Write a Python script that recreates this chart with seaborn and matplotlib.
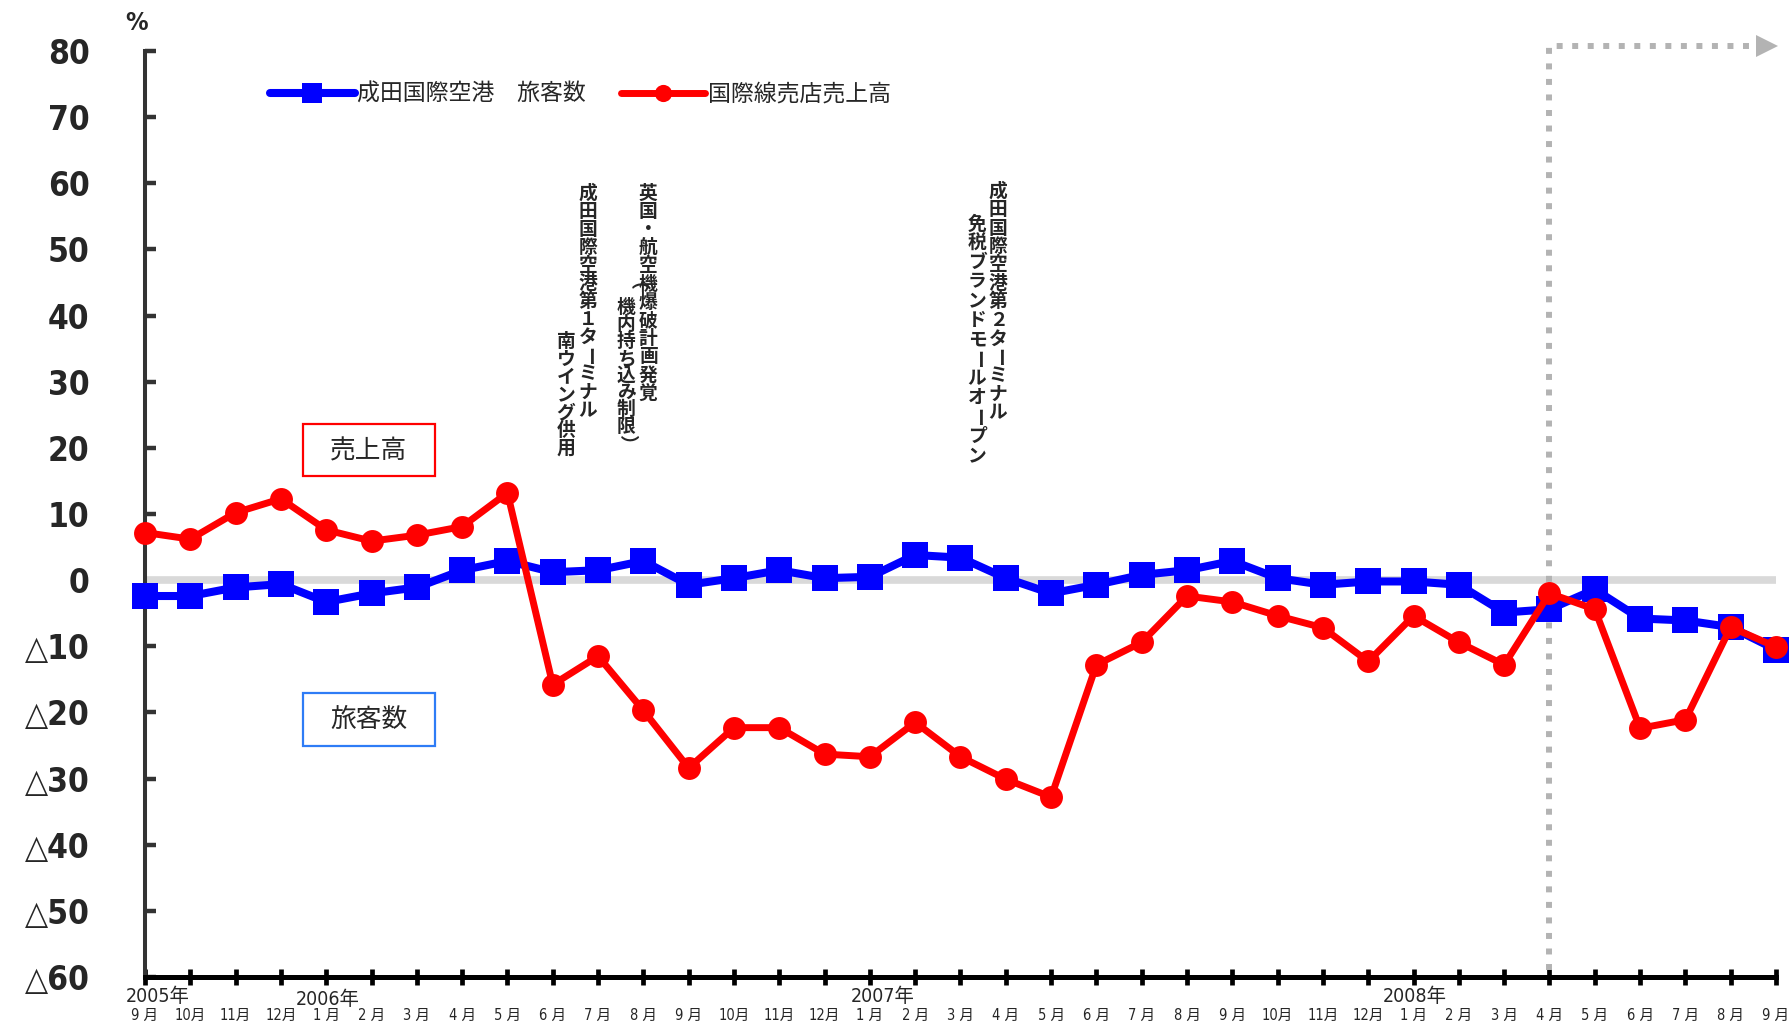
import numpy as np
import pandas as pd
import matplotlib
matplotlib.use("Agg")
import matplotlib.pyplot as plt
import seaborn as sns
from matplotlib.patches import Rectangle

# ---- data -------------------------------------------------------------
month_labels = [
    "9 月", "10月", "11月", "12月",
    "1 月", "2 月", "3 月", "4 月", "5 月", "6 月", "7 月", "8 月", "9 月", "10月", "11月", "12月",
    "1 月", "2 月", "3 月", "4 月", "5 月", "6 月", "7 月", "8 月", "9 月", "10月", "11月", "12月",
    "1 月", "2 月", "3 月", "4 月", "5 月", "6 月", "7 月", "8 月", "9 月",
]
year_labels = ["2005年", "2006年", "2007年", "2008年"]
year_start = [0, 4, 16, 28]

# 成田国際空港 旅客数 (前年同月比 %)
passengers = [-2.4, -2.4, -1.1, -0.6, -3.3, -2.0, -1.1, 1.5, 2.9, 1.2, 1.5, 2.9,
              -0.7, 0.3, 1.5, 0.3, 0.5, 3.8, 3.4, 0.3, -2.0, -0.7, 0.8, 1.5,
              2.9, 0.3, -0.7, -0.2, -0.2, -0.7, -4.9, -4.4, -1.4, -5.8, -6.1, -7.1, -10.5]
# 国際線売店売上高 (前年同月比 %)
sales = [7.2, 6.2, 10.2, 12.3, 7.6, 5.9, 6.8, 8.1, 13.2, -15.8, -11.5, -19.7,
         -28.4, -22.3, -22.3, -26.3, -26.7, -21.5, -26.7, -30.1, -32.8, -12.8, -9.4, -2.4,
         -3.3, -5.4, -7.2, -12.3, -5.4, -9.4, -12.8, -2.0, -4.4, -22.4, -21.1, -7.1, -10.1]

series_names = ["成田国際空港　旅客数", "国際線売店売上高"]
box_labels = ["売上高", "旅客数"]
event_notes = [
    ("成田国際空港第１ターミナル", "南ウイング供用"),
    ("英国・航空機爆破計画発覚", "（機内持ち込み制限）"),
    ("成田国際空港第２ターミナル", "免税ブランドモールオープン"),
]
y_ticks = list(range(-60, 81, 10))
y_tick_labels = [("△%d" % -v) if v < 0 else str(v) for v in y_ticks]
marker_month = 31  # 2008年4月

# ---- style ------------------------------------------------------------
sns.set_style("white")
plt.rcParams["font.family"] = ["Noto Sans CJK JP", "DejaVu Sans"]
NARROW = ["DejaVu Sans", "Noto Sans CJK JP"]

W, H = 1791, 1026
fig = plt.figure(figsize=(W / 100, H / 100), dpi=100)
ax = fig.add_axes([145 / W, 1 - 977 / H, (1776 - 145) / W, (977 - 51) / H])

df = pd.DataFrame({"month": np.arange(len(month_labels)),
                   "passengers": passengers, "sales": sales})

# zero reference band
ax.axhline(0, color="#d9d9d9", lw=5.5, zorder=1, solid_capstyle="butt")

# dotted pointer from 2008年4月 to the right edge
ax.plot([marker_month, marker_month, 35.55], [-59, 80.7, 80.7], color="#b3b3b3",
        lw=4.3, linestyle=(0, (1, 1.6)), dash_capstyle="butt", clip_on=False, zorder=1.5)
ax.plot([35.8], [80.7], marker=">", ms=16.5, color="#b3b3b3", mew=0, clip_on=False, zorder=1.5)

sns.lineplot(data=df, x="month", y="passengers", ax=ax, color="#0000ff", lw=5.8,
             marker="s", markersize=18.5, markeredgewidth=0, label=series_names[0],
             zorder=3, clip_on=False)
sns.lineplot(data=df, x="month", y="sales", ax=ax, color="#ff0000", lw=5.0,
             marker="o", markersize=16.5, markeredgewidth=0, label=series_names[1],
             zorder=4, clip_on=False)

ax.set_xlim(0, 36)
ax.set_ylim(-60, 80)
ax.set_xlabel("")
ax.set_ylabel("")

# axes styling
for side in ("top", "right"):
    ax.spines[side].set_visible(False)
ax.spines["left"].set_color("#333333")
ax.spines["left"].set_linewidth(2.9)
ax.spines["bottom"].set_color("#000000")
ax.spines["bottom"].set_linewidth(3.6)
ax.spines["left"].set_zorder(2)
ax.spines["bottom"].set_zorder(2)

ax.set_yticks(y_ticks)
ax.set_yticklabels(y_tick_labels, family=NARROW, fontsize=24, fontweight="bold",
                   fontstretch="condensed")
ax.tick_params(axis="y", left=True, direction="in", length=8, width=3.2,
               color="#333333", pad=40)

ax.set_xticks(range(len(month_labels)))
ax.set_xticklabels(month_labels, family=NARROW, fontsize=10.5, fontstretch="condensed")
ax.tick_params(axis="x", bottom=True, direction="inout", length=11, width=3.4,
               color="#000000", pad=17)

# year captions under the month ticks
year_dx = [9, 1, 9, 1]
year_dy = [-14, -16, -14, -14]
for lbl, m, dx, dy in zip(year_labels, year_start, year_dx, year_dy):
    ax.annotate(lbl, xy=(m, 0), xycoords=("data", "axes fraction"),
                xytext=(dx, dy), textcoords="offset points",
                ha="center", va="center", family=NARROW, fontsize=14,
                fontstretch="condensed")

# legend
ax.legend(loc="center left", bbox_to_anchor=(0.0766, 0.9535), ncol=2, frameon=False,
          prop={"family": ["Noto Sans CJK JP"], "size": 16.5}, handlelength=3.7,
          handletextpad=0.12, columnspacing=1.5, borderpad=0, borderaxespad=0,
          markerscale=0.75)

# unit label
fig.text(137 / W, 1 - 23 / H, "%", ha="center", va="center", family=NARROW,
         fontsize=18, fontweight="bold", fontstretch="condensed")


def px_rect(x0, y0, x1, y1, color):
    rect = Rectangle((x0 / W, 1 - y1 / H), (x1 - x0) / W, (y1 - y0) / H,
                     transform=fig.transFigure, fill=False, edgecolor=color, lw=1.6)
    fig.add_artist(rect)


px_rect(303, 424, 435, 476, "#ff0000")
fig.text(369 / W, 1 - 451 / H, box_labels[0], ha="center", va="center", fontsize=18.5)
px_rect(303, 693, 435, 746, "#2e7cf6")
fig.text(369 / W, 1 - 720 / H, box_labels[1], ha="center", va="center", fontsize=18.5)


def vertical_text(x_px, y0_px, step_px, s):
    for i, ch in enumerate(s):
        rot = -90 if ch in "ー（）" else 0
        fig.text(x_px / W, 1 - (y0_px + i * step_px) / H, ch, ha="center", va="center",
                 rotation=rot, fontsize=13.5, fontweight="bold",
                 family=["Noto Sans CJK JP"])


# (x, first-character y, pitch) for each column of the event notes
note_columns = [
    [(588, 193, 18.1), (566, 342, 17.7)],
    [(648, 193, 18.2), (626, 291, 16.9)],
    [(998, 191, 18.5), (977, 224, 19.3)],
]
for (first, second), cols in zip(event_notes, note_columns):
    vertical_text(*cols[0], first)
    vertical_text(*cols[1], second)

fig.savefig("out.png", dpi=100)
